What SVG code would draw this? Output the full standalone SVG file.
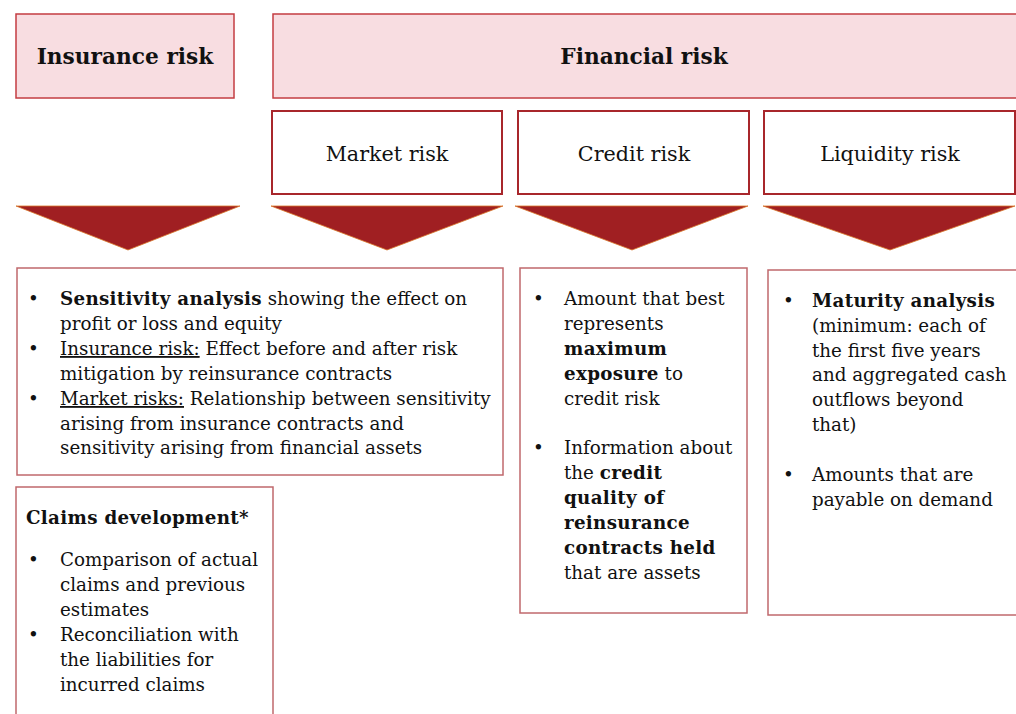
<svg xmlns="http://www.w3.org/2000/svg" width="1016" height="714" viewBox="0 0 1016 714">
<style>
text{font-family:"DejaVu Serif","Liberation Serif",serif;fill:#111}
.head{fill:#f8dde1;stroke:#c43c42;stroke-width:1.5}
.sub{fill:#fff;stroke:#a8262b;stroke-width:2}
.box{fill:#fff;stroke:#c0686c;stroke-width:1.5}
.tri{fill:#a01f22;stroke:#d9772a;stroke-width:0.8}
.ht{font-size:21.7px;font-weight:bold;text-anchor:middle}
.st{font-size:20.7px;text-anchor:middle}
.bt{font-size:18.3px}
.b{font-weight:bold;letter-spacing:0.3px}
.u{text-decoration:underline}
</style>
<g id="insurance-risk">
<rect class="head" x="16" y="14" width="218" height="84"/>
<text class="ht" x="125" y="64">Insurance risk</text>
</g>
<g id="financial-risk">
<rect class="head" x="273" y="14" width="750" height="84"/>
<text class="ht" x="644" y="64">Financial risk</text>
</g>
<g id="market-risk">
<rect class="sub" x="272" y="111" width="230" height="83"/>
<text class="st" x="387" y="161">Market risk</text>
</g>
<g id="credit-risk">
<rect class="sub" x="518" y="111" width="231" height="83"/>
<text class="st" x="634" y="161">Credit risk</text>
</g>
<g id="liquidity-risk">
<rect class="sub" x="764" y="111" width="251" height="83"/>
<text class="st" x="890" y="161">Liquidity risk</text>
</g>
<g id="connectors">
<polygon class="tri" points="16,206 240,206 128,250"/>
<polygon class="tri" points="271,206 503,206 387,250"/>
<polygon class="tri" points="515,206 748,206 632,250"/>
<polygon class="tri" points="763,206 1015,206 890,250"/>
</g>
<g id="sensitivity">
<rect class="box" x="17" y="268" width="486" height="207"/>
<text class="bt" x="28" y="305">•</text>
<text class="bt" x="60" y="305"><tspan class="b">Sensitivity analysis</tspan> showing the effect on</text>
<text class="bt" x="60" y="330">profit or loss and equity</text>
<text class="bt" x="28" y="355">•</text>
<text class="bt" x="60" y="355"><tspan class="u">Insurance risk:</tspan> Effect before and after risk</text>
<text class="bt" x="60" y="380">mitigation by reinsurance contracts</text>
<text class="bt" x="28" y="405">•</text>
<text class="bt" x="60" y="405"><tspan class="u">Market risks:</tspan> Relationship between sensitivity</text>
<text class="bt" x="60" y="430">arising from insurance contracts and</text>
<text class="bt" x="60" y="454">sensitivity arising from financial assets</text>
</g>
<g id="credit-details">
<rect class="box" x="520" y="268" width="227" height="345"/>
<text class="bt" x="533" y="305">•</text>
<text class="bt" x="564" y="305">Amount that best</text>
<text class="bt" x="564" y="330">represents</text>
<text class="bt b" x="564" y="355">maximum</text>
<text class="bt" x="564" y="380"><tspan class="b">exposure</tspan> to</text>
<text class="bt" x="564" y="405">credit risk</text>
<text class="bt" x="533" y="454">•</text>
<text class="bt" x="564" y="454">Information about</text>
<text class="bt" x="564" y="479">the <tspan class="b">credit</tspan></text>
<text class="bt b" x="564" y="504">quality of</text>
<text class="bt b" x="564" y="529">reinsurance</text>
<text class="bt b" x="564" y="554">contracts held</text>
<text class="bt" x="564" y="579">that are assets</text>
</g>
<g id="liquidity-details">
<rect class="box" x="768" y="270" width="255" height="345"/>
<text class="bt" x="783" y="307">•</text>
<text class="bt b" x="812" y="307">Maturity analysis</text>
<text class="bt" x="812" y="332">(minimum: each of</text>
<text class="bt" x="812" y="357">the first five years</text>
<text class="bt" x="812" y="381">and aggregated cash</text>
<text class="bt" x="812" y="406">outflows beyond</text>
<text class="bt" x="812" y="431">that)</text>
<text class="bt" x="783" y="481">•</text>
<text class="bt" x="812" y="481">Amounts that are</text>
<text class="bt" x="812" y="506">payable on demand</text>
</g>
<g id="claims-development">
<path class="box" d="M16,730 V487 H273 V730"/>
<text class="bt b" x="26" y="524">Claims development*</text>
<text class="bt" x="28" y="566">•</text>
<text class="bt" x="60" y="566">Comparison of actual</text>
<text class="bt" x="60" y="591">claims and previous</text>
<text class="bt" x="60" y="616">estimates</text>
<text class="bt" x="28" y="641">•</text>
<text class="bt" x="60" y="641">Reconciliation with</text>
<text class="bt" x="60" y="666">the liabilities for</text>
<text class="bt" x="60" y="691">incurred claims</text>
</g>
</svg>
